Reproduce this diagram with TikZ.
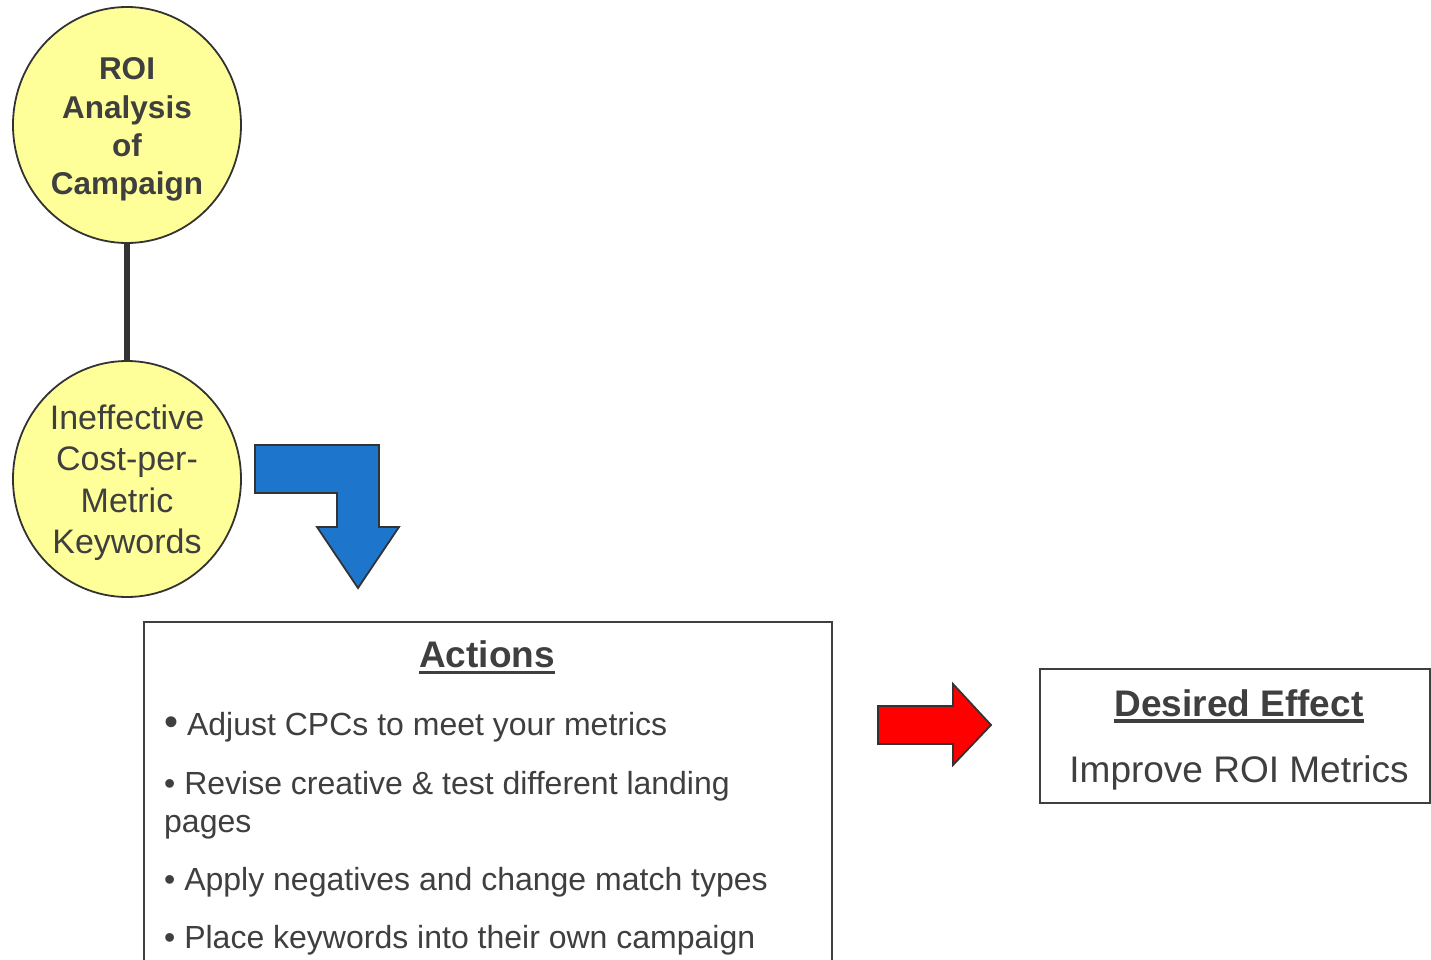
\documentclass[tikz,border=0pt]{standalone}
\usepackage{fontspec}
\setmainfont{Liberation Sans}
\usetikzlibrary{shapes.geometric}
\definecolor{ink}{HTML}{3F3F3F}
\definecolor{edge}{HTML}{333333}
\definecolor{ylw}{HTML}{FFFF99}
\definecolor{blu}{HTML}{1E76CC}
\definecolor{rd}{HTML}{FF0000}
\tikzset{
  bubble/.style={ellipse, draw=edge, line width=1.8, fill=ylw, minimum width=228, minimum height=236, inner sep=0},
  bubtext/.style={align=center, inner sep=0, text=ink},
  txt/.style={inner sep=0, text=ink},
  frame/.style={draw=ink, line width=2},
  shapeline/.style={draw=edge, line width=1.8, line join=miter},
  uline/.style={draw=ink, line width=3.2}
}
\newcommand{\regfont}{\fontsize{32}{38}\selectfont}
\newcommand{\hdfont}{\fontsize{37}{44}\selectfont\bfseries}
\begin{document}
\begin{tikzpicture}[x=1pt,y=-1pt]
\useasboundingbox[fill=white] (0,0) rectangle (1431,960);
\begin{scope}
\clip (0,0) rectangle (1431,960);
% bubbles
\node[bubble] (c1) at (127,125) {};
\node[bubble] (c2) at (127,479) {};
\draw[draw=edge, line width=6] (c1.south) -- (c2.north);
\node[bubtext, font=\fontsize{31.5}{38.3}\selectfont\bfseries] (t1) at (127,129.5) {ROI\\Analysis\\of\\Campaign};
\node[bubtext, font=\fontsize{34}{41.5}\selectfont] (t2) at (127,482.5) {Ineffective\\Cost-per-\\Metric\\Keywords};
% blue bent arrow
\filldraw[shapeline, fill=blu] (255,445) -- (379,445) -- (379,527) -- (399,527) -- (358,588) -- (317,527) -- (337,527) -- (337,493) -- (255,493) -- cycle;
% actions box
\node[frame, anchor=north west, minimum width=688, minimum height=380, inner sep=0] (actbox) at (143,621) {};
\node[txt, anchor=base, font=\hdfont] (acthd) at (487,667) {Actions};
\draw[uline] ([yshift=-5.5pt]acthd.base west) -- ([yshift=-5.5pt]acthd.base east);
\node[txt, anchor=base west, font=\regfont] (a1) at (164,735) {{\fontsize{40}{40}\selectfont •} Adjust CPCs to meet your metrics};
\node[txt, anchor=base west, font=\regfont] (a2) at (164,794) {• Revise creative \& test different landing};
\node[txt, anchor=base west, font=\regfont] (a2b) at (164,832) {pages};
\node[txt, anchor=base west, font=\regfont] (a3) at (164,890) {• Apply negatives and change match types};
\node[txt, anchor=base west, font=\regfont] (a4) at (164,948) {• Place keywords into their own campaign};
% red arrow
\filldraw[shapeline, fill=rd] (878,706) -- (953,706) -- (953,684) -- (991,725) -- (953,765) -- (953,744) -- (878,744) -- cycle;
% desired effect box
\node[frame, anchor=north west, minimum width=390, minimum height=134, inner sep=0] (debox) at (1039,668) {};
\node[txt, anchor=base, font=\hdfont] (dehd) at (1239,716) {Desired Effect};
\draw[uline] ([yshift=-5pt]dehd.base west) -- ([yshift=-5pt]dehd.base east);
\node[txt, anchor=base, font=\fontsize{37}{44}\selectfont] (de1) at (1239,782) {Improve ROI Metrics};
\end{scope}
\end{tikzpicture}
\end{document}
